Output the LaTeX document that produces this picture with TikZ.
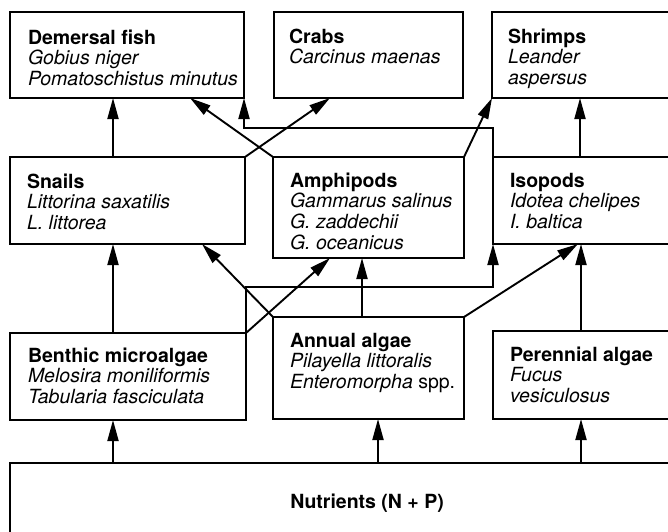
\documentclass[tikz,border=0pt]{standalone}
\usepackage{fontspec}
\setmainfont{TeX Gyre Heros}
\usetikzlibrary{arrows.meta,calc}
\tikzset{
  fwbox/.style={draw, line width=1.6pt, anchor=north west, inner sep=0pt, outer sep=0pt},
  spname/.style={anchor=north west, inner sep=0pt, outer sep=0pt, align=left,
    font=\fontsize{19.5}{20.7}\selectfont},
  feed/.style={line width=1.9pt, -{Triangle[length=21pt,width=11pt]}},
}
\newcommand{\fs}{\rule{0pt}{15pt}}
\begin{document}
\begin{tikzpicture}[x=1pt,y=-1pt]
\useasboundingbox (0,0) rectangle (668,531);
\clip (0,0) rectangle (668,531);
\fill[white] (0,0) rectangle (668,531);

% boxes
\node[fwbox, minimum width=234pt, minimum height=86pt] (fish) at (10,12) {};
\node[fwbox, minimum width=189pt, minimum height=86pt] (crabs) at (274,12) {};
\node[fwbox, minimum width=228pt, minimum height=86pt] (shrimps) at (492,12) {};
\node[fwbox, minimum width=235pt, minimum height=87pt] (snails) at (10,157) {};
\node[fwbox, minimum width=191pt, minimum height=101pt] (amph) at (273,157) {};
\node[fwbox, minimum width=227pt, minimum height=87pt] (iso) at (493,157) {};
\node[fwbox, minimum width=236pt, minimum height=87pt] (benthic) at (10,333) {};
\node[fwbox, minimum width=191pt, minimum height=102pt] (annual) at (273,317) {};
\node[fwbox, minimum width=227pt, minimum height=88pt] (peren) at (493,331) {};
\node[fwbox, minimum width=710pt, minimum height=150pt] (nutr) at (10,463) {};

% texts
\node[spname] (fishT) at ([shift={(18pt,-17pt)}]fish.north west)
  {\textbf{\fs Demersal fish}\\ \textit{Gobius niger}\\ \textit{Pomatoschistus minutus}};
\node[spname] (crabsT) at ([shift={(15pt,-16pt)}]crabs.north west)
  {\textbf{\fs Crabs}\\ \textit{Carcinus maenas}};
\node[spname] (shrimpsT) at ([shift={(16pt,-16pt)}]shrimps.north west)
  {\textbf{\fs Shrimps}\\ \textit{Leander}\\ \textit{aspersus}};
\node[spname] (snailsT) at ([shift={(17pt,-16pt)}]snails.north west)
  {\textbf{\fs Snails}\\ \textit{Littorina saxatilis}\\ \textit{L. littorea}};
\node[spname] (amphT) at ([shift={(17pt,-15pt)}]amph.north west)
  {\textbf{\fs Amphipods}\\ \textit{Gammarus salinus}\\ \textit{G. zaddechii}\\ \textit{G. oceanicus}};
\node[spname] (isoT) at ([shift={(17pt,-15pt)}]iso.north west)
  {\textbf{\fs Isopods}\\ \textit{Idotea chelipes}\\ \textit{I. baltica}};
\node[spname] (benthicT) at ([shift={(18pt,-14pt)}]benthic.north west)
  {\textbf{\fs Benthic microalgae}\\ \textit{Melosira moniliformis}\\ \textit{Tabularia fasciculata}};
\node[spname] (annualT) at ([shift={(17pt,-15pt)}]annual.north west)
  {\textbf{\fs Annual algae}\\ \textit{Pilayella littoralis}\\ \textit{Enteromorpha} spp.};
\node[spname] (perenT) at ([shift={(17pt,-15pt)}]peren.north west)
  {\textbf{\fs Perennial algae}\\ \textit{Fucus}\\ \textit{vesiculosus}};
\node[anchor=base, inner sep=0pt, font=\fontsize{19.5}{20.7}\selectfont\bfseries]
  (nutrT) at (367,508) {Nutrients (N + P)};

% connectors: second row to top row
\draw[feed] ([xshift=103pt]snails.north west) -- ([xshift=103pt]fish.south west);
\draw[feed] (amph.north west) -- ([xshift=180pt]fish.south west);
\draw[feed] (snails.north east) -- ([xshift=56pt]crabs.south west);
\draw[feed] (iso.north west) -- ++(0,-29) -| (fish.south east);
\draw[feed] (amph.north east) -- (shrimps.south west);
\draw[feed] ([xshift=87pt]iso.north west) -- ([xshift=88pt]shrimps.south west);

% connectors: third row to second row
\draw[feed] ([xshift=103pt]benthic.north west) -- ([xshift=103pt]snails.south west);
\draw[feed] (annual.north west) -- ([xshift=192pt]snails.south west);
\draw[feed] (benthic.north east) -- ([xshift=57pt]amph.south west);
\draw[feed] ([xshift=89pt]annual.north west) -- ([xshift=89pt]amph.south west);
\draw[feed] (benthic.north east) -- ++(0,-46) -| (iso.south west);
\draw[feed] (annual.north east) -- ([xshift=85pt]iso.south west);
\draw[feed] ([xshift=88pt]peren.north west) -- ([xshift=88pt]iso.south west);

% connectors: nutrients to producers
\draw[feed] ([xshift=103pt]nutr.north west) -- ([xshift=103pt]benthic.south west);
\draw[feed] ([xshift=368pt]nutr.north west) -- ([xshift=105pt]annual.south west);
\draw[feed] ([xshift=571pt]nutr.north west) -- ([xshift=88pt]peren.south west);
\end{tikzpicture}
\end{document}
